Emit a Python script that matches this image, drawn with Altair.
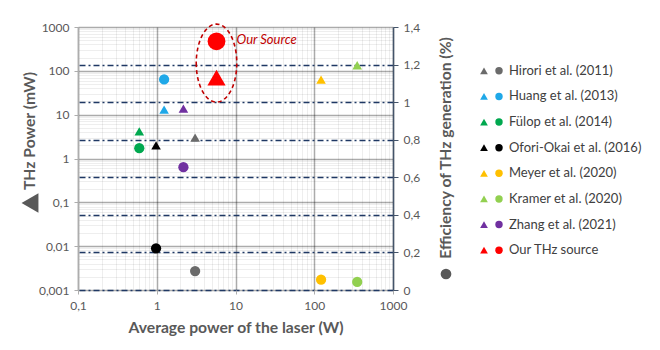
import altair as alt
import pandas as pd

# ---------------- data ----------------
studies = [
    "Hirori et al. (2011)",
    "Huang et al. (2013)",
    "Fülop et al. (2014)",
    "Ofori-Okai et al. (2016)",
    "Meyer et al. (2020)",
    "Kramer et al. (2020)",
    "Zhang et al. (2021)",
    "Our THz source",
]
laser_power_W = [3.07, 1.24, 0.60, 0.98, 122, 351, 2.18, 5.74]
thz_power_mW = [2.98, 13.0, 4.16, 1.99, 63, 134, 13.7, 70]
efficiency_pct = [0.101, 1.121, 0.755, 0.222, 0.055, 0.043, 0.654, 1.324]
colors = ["#6B6B6B", "#1FA8E8", "#00A84F", "#000000", "#FFC000", "#92D050", "#7030A0", "#FF0000"]

x_major = [0.1, 1, 10, 100, 1000]
y_left_major = [0.001, 0.01, 0.1, 1, 10, 100, 1000]
y_right_ticks = [0, 0.2, 0.4, 0.6, 0.8, 1.0, 1.2, 1.4]

ann_text = ["Our Source"]
ann_laser = [5.74]
ann_ellipse_thz = [150]
ann_label_thz = [497]

# ---------------- helpers ----------------
def with_minor(majors):
    vals = []
    for m in majors[:-1]:
        for k in range(1, 10):
            vals.append(round(k * m, 10))
    vals.append(majors[-1])
    return vals

FONT = "Lato"
LABEL_COLOR = "#595959"
TITLE_SIZE = 15.7
major_test = "abs(log(datum.value)/LN10 - round(log(datum.value)/LN10)) < 0.001"
label_expr = f"({major_test}) ? replace(toString(datum.value), '.', ',') : ''"
grid_op = {"condition": {"test": major_test, "value": 0.33}, "value": 0.085}
grid_width = {"condition": {"test": major_test, "value": 1.5}, "value": 0.8}
tick_op = {"condition": {"test": major_test, "value": 1}, "value": 0}

df = pd.DataFrame({
    "study": studies,
    "laser": laser_power_W,
    "thz": thz_power_mW,
    "eff": efficiency_pct,
})

W, H = 315, 263
color_enc = alt.Color("study:N", scale=alt.Scale(domain=studies, range=colors), legend=None)
is_ours = alt.datum.study == "Our THz source"

x_enc = alt.X(
    "laser:Q",
    scale=alt.Scale(type="log", domain=[0.1, 1000], nice=False),
    axis=alt.Axis(
        values=with_minor(x_major), labelExpr=label_expr, grid=True, gridColor="#000000",
        gridOpacity=grid_op, gridWidth=grid_width, tickOpacity=tick_op, tickSize=4,
        tickColor="#ADADAD", domain=False, labelPadding=6, labelFont=FONT, labelFontSize=12,
        labelColor=LABEL_COLOR, title=None, labelOverlap=False, labelFlush=False,
    ),
)

y_left = alt.Y(
    "thz:Q",
    scale=alt.Scale(type="log", domain=[0.001, 1000], nice=False),
    axis=alt.Axis(
        orient="left", values=with_minor(y_left_major), labelExpr=label_expr, grid=True,
        gridColor="#000000", gridOpacity=grid_op, gridWidth=grid_width, tickOpacity=tick_op,
        tickSize=4, tickColor="#ADADAD", domainColor="#ADADAD", domainWidth=1.5,
        labelPadding=5, labelFont=FONT, labelFontSize=12, labelColor=LABEL_COLOR,
        title=None, labelOverlap=False, labelFlush=False,
    ),
)

tri = alt.Chart(df).mark_point(shape="triangle-up", filled=True, opacity=1).encode(
    x=x_enc, y=y_left, color=color_enc,
    size=alt.condition(is_ours, alt.value(330), alt.value(92)),
)

ell_df = pd.DataFrame({"laser": ann_laser, "thz": ann_ellipse_thz})
ellipse = alt.Chart(ell_df).mark_point(
    shape="M -0.52 0 A 0.52 1 0 1 0 0.52 0 A 0.52 1 0 1 0 -0.52 0",
    size=78 * 78, filled=False, stroke="#C00000", strokeWidth=1.6,
    strokeDash=[4, 3], opacity=1,
).encode(x="laser:Q", y="thz:Q")

lab_df = pd.DataFrame({"laser": ann_laser, "thz": ann_label_thz, "t": ann_text})
our_label = alt.Chart(lab_df).mark_text(
    align="left", baseline="middle", dx=20, fontStyle="italic", fontSize=13,
    font=FONT, color="#C00000",
).encode(x="laser:Q", y="thz:Q", text="t:N")

left_layer = alt.layer(tri, ellipse, our_label)

circ = alt.Chart(df).mark_circle(opacity=1).encode(
    x="laser:Q",
    y=alt.Y(
        "eff:Q",
        scale=alt.Scale(domain=[0, 1.4], nice=False, zero=True),
        axis=alt.Axis(
            orient="right", values=y_right_ticks,
            labelExpr="replace(toString(datum.value), '.', ',')",
            grid=True, gridDash=[6, 3, 2, 3], gridColor="#1F3864", gridWidth=1.4,
            gridOpacity={"condition": {"test": "datum.value > 1.3", "value": 0}, "value": 1},
            domainColor="#44546A", domainWidth=1.5, tickColor="#44546A", tickSize=5,
            labelPadding=5, labelFont=FONT, labelFontSize=12, labelColor=LABEL_COLOR,
            title=None,
        ),
    ),
    color=color_enc,
    size=alt.condition(is_ours, alt.value(315), alt.value(105)),
)

# ---------------- legend ----------------
leg_y = alt.Y("study:N", sort=studies,
              scale=alt.Scale(type="point", domain=studies, range=[31, 236]), axis=None)
leg_tri = alt.Chart(df).mark_point(shape="triangle-up", filled=True, size=60, opacity=1).encode(
    x=alt.value(406), y=leg_y, color=color_enc)
leg_circ = alt.Chart(df).mark_circle(size=55, opacity=1).encode(
    x=alt.value(421), y=leg_y, color=color_enc)
leg_text = alt.Chart(df).mark_text(align="left", baseline="middle", fontSize=13,
                                   font=FONT, color="#404040").encode(
    x=alt.value(431), y=leg_y, text="study:N")
legend = alt.layer(leg_tri, leg_circ, leg_text)

# ---------------- titles ----------------
one = alt.Data(values=[{}])
t_left = alt.Chart(one).mark_text(text="THz Power  (mW)", angle=270, fontSize=TITLE_SIZE,
                                  fontWeight="bold", font=FONT, color=LABEL_COLOR,
                                  align="center", baseline="middle").encode(
    x=alt.value(-48), y=alt.value(104))
t_left_sym = alt.Chart(one).mark_point(shape="triangle-left", filled=True, size=380,
                                       opacity=1, color=LABEL_COLOR).encode(
    x=alt.value(-48), y=alt.value(176))
t_right = alt.Chart(one).mark_text(text="Efficiency of THz generation  (%)", angle=270,
                                   fontSize=TITLE_SIZE, fontWeight="bold", font=FONT,
                                   color=LABEL_COLOR, align="center",
                                   baseline="middle").encode(
    x=alt.value(368), y=alt.value(121))
t_right_sym = alt.Chart(one).mark_circle(size=115, opacity=1, color=LABEL_COLOR).encode(
    x=alt.value(368), y=alt.value(247))
t_bottom = alt.Chart(one).mark_text(text="Average power of the laser (W)", fontSize=TITLE_SIZE,
                                    fontWeight="bold", font=FONT, color=LABEL_COLOR,
                                    align="center", baseline="middle").encode(
    x=alt.value(158), y=alt.value(301))

chart = alt.layer(
    left_layer, circ, legend, t_left, t_left_sym, t_right, t_right_sym, t_bottom
).resolve_scale(y="independent").properties(
    width=W, height=H,
    autosize=alt.AutoSizeParams(type="none"),
    padding={"left": 78, "top": 27, "right": 660 - 78 - W, "bottom": 350 - 27 - H},
    background="white",
).configure_view(stroke=None)

chart.save("out.html", embed_options={"renderer": "svg", "actions": False})
